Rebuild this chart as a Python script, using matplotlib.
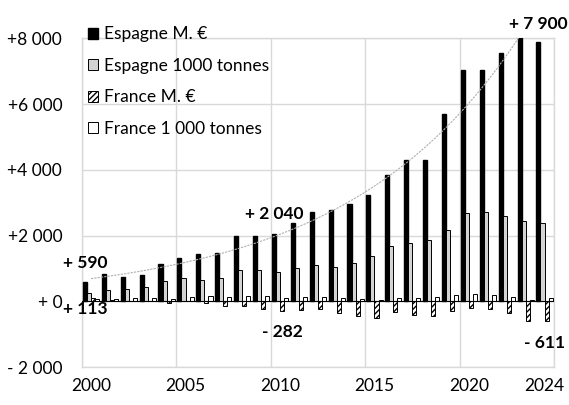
import numpy as np
import matplotlib.pyplot as plt

years = list(range(2000, 2025))
esp_meur = [590, 820, 740, 800, 1120, 1330, 1440, 1460, 1980, 1990, 2040, 2390, 2730, 2790,
            2970, 3230, 3830, 4310, 4290, 5710, 7030, 7050, 7540, 8100, 7900]
esp_t = [260, 355, 375, 436, 605, 700, 660, 700, 950, 960, 885, 1000, 1100, 1050,
         1160, 1390, 1690, 1775, 1850, 2155, 2685, 2725, 2605, 2450, 2380]
fra_meur = [113, 40, 10, 10, -60, 10, -60, -140, -140, -250, -282, -260, -240, -360,
            -450, -510, -320, -425, -455, -305, -215, -235, -345, -595, -611]
fra_t = [82, 70, 100, 100, 80, 120, 165, 130, 170, 150, 110, 130, 140, 112,
         55, 25, 105, 112, 132, 183, 223, 193, 132, 51, 101]

series_names = ["Espagne M. €", "Espagne 1000 tonnes", "France M. €", "France 1 000 tonnes"]

ytick_vals = [-2000, 0, 2000, 4000, 6000, 8000]
ytick_labels = ["- 2 000", "+ 0", "+2 000", "+4 000", "+6 000", "+8 000"]
xtick_years = [2000, 2005, 2010, 2015, 2020, 2024]

# data labels: (series index, year, text, offset in pixels)
lab_series = [0, 2, 0, 2, 0, 2]
lab_years = [2000, 2000, 2010, 2010, 2024, 2024]
lab_texts = ["+ 590", "+ 113", "+ 2 040", "- 282", "+ 7 900", "- 611"]
lab_dx = [0, -8, 0, 0, 0, -2]
lab_dy = [19, -11, 20, -21, 18, -22]

plt.rcParams['font.family'] = ['Lato', 'DejaVu Sans']

fig = plt.figure(figsize=(5.69, 4.05), dpi=100)
ax = fig.add_axes([0.1434, 0.0938, 0.8302, 0.8116])

x = np.arange(len(years))
w = 0.215
data = [esp_meur, esp_t, fra_meur, fra_t]
styles = [dict(color='black', edgecolor='black'),
          dict(color='#d3d3d3', edgecolor='black', linewidth=0.7),
          dict(color='white', edgecolor='black', hatch='//////', linewidth=0.7),
          dict(color='white', edgecolor='black', linewidth=0.7)]
for k in range(4):
    ax.bar(x + (k - 1.5) * w, data[k], width=w, label=series_names[k], zorder=3, **styles[k])

# exponential trend on Espagne M. €
coef = np.polyfit(x, np.log(esp_meur), 1)
xt = np.linspace(0, len(years) - 1, 200)
ax.plot(xt, np.exp(np.polyval(coef, xt)), color='#b0b0b0', lw=0.8, ls=(0, (2, 1)), zorder=4)

ax.axhline(0, color='black', lw=0.8, zorder=4)

ax.set_xlim(-0.5, len(years) - 0.5)
ax.set_ylim(-2000, 8000)
ax.set_yticks(ytick_vals)
ax.set_yticklabels(ytick_labels)
ax.set_xticks([years.index(y) for y in xtick_years])
ax.set_xticklabels([str(y) for y in xtick_years])
ax.set_xticks(np.arange(-0.5, len(years), 5), minor=True)
ax.tick_params(axis='both', which='both', length=0, labelsize=12.5, colors='black')
ax.tick_params(axis='y', pad=14)
ax.tick_params(axis='x', pad=8)
ax.grid(axis='y', color='#d9d9d9', lw=1, zorder=0)
ax.grid(axis='x', which='minor', color='#d9d9d9', lw=1, zorder=0)
for s in ax.spines.values():
    s.set_color('#d9d9d9')
    s.set_linewidth(1)

for s, yr, t, dx, dy in zip(lab_series, lab_years, lab_texts, lab_dx, lab_dy):
    i = years.index(yr)
    ax.annotate(t, xy=(x[i] + (s - 1.5) * w, data[s][i]), xytext=(dx, dy),
                textcoords='offset pixels', ha='center', va='center',
                fontsize=12.5, fontweight='bold', annotation_clip=False)

ax.legend(loc='upper left', bbox_to_anchor=(0.145, 0.948), bbox_transform=fig.transFigure,
          frameon=False, fontsize=12.5, handlelength=0.6, handleheight=0.6,
          handletextpad=0.35, labelspacing=0.89, borderpad=0.3, borderaxespad=0)

fig.savefig('out.png', dpi=100)
